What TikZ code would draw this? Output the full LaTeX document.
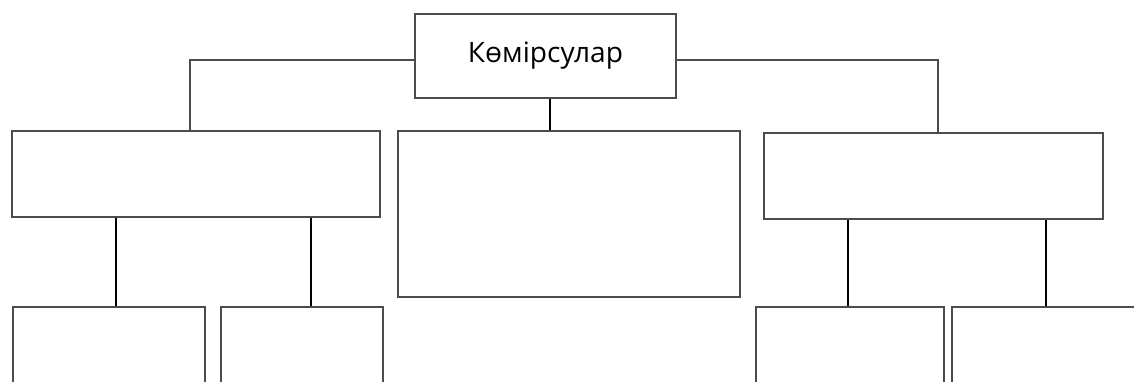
\documentclass[tikz,border=0pt]{standalone}
\usepackage{fontspec}
\setmainfont{Open Sans}

\begin{document}
\begin{tikzpicture}[x=0.02cm,y=-0.02cm,
    box/.style={draw=black!70, line width=0.8pt, rectangle, inner sep=0pt},
    thin/.style={draw=black!70, line width=0.7pt},
    stem/.style={draw=black, line width=1.7pt}]
    \useasboundingbox (0,0) rectangle (1134,382);
    \clip (0,0) rectangle (1134,382);
    \node[box, minimum width=5.22cm, minimum height=1.68cm, font=\fontsize{16}{19}\selectfont] (top) at (545.5,56) {Көмірсулар};
    \node[box, minimum width=7.36cm, minimum height=1.72cm] (L) at (196,174) {};
    \node[box, minimum width=6.84cm, minimum height=3.32cm] (C) at (569,214) {};
    \node[box, minimum width=6.78cm, minimum height=1.72cm] (R) at (933.5,176) {};
    % bottom row
    \node[box, minimum width=3.84cm, minimum height=1.86cm] (LL) at (109,353.5) {};
    \node[box, minimum width=3.24cm, minimum height=1.86cm] (LR) at (302,353.5) {};
    \node[box, minimum width=3.76cm, minimum height=1.86cm] (RL) at (850,353.5) {};
    \node[box, minimum width=3.96cm, minimum height=1.86cm] (RR) at (1051,353.5) {};
    % links
    \draw[thin] ([yshift=-0.08cm]top.west) -| ([xshift=-0.12cm]L.north);
    \draw[thin] ([yshift=-0.08cm]top.east) -| ([xshift=0.09cm]R.north);
    \draw[stem] ([xshift=0.09cm]top.south) -- ([xshift=0.09cm]top.south |- C.north);
    \draw[stem] ([xshift=0.14cm]LL.north) -- ([xshift=0.14cm]LL.north |- L.south);
    \draw[stem] ([xshift=0.18cm]LR.north) -- ([xshift=0.18cm]LR.north |- L.south);
    \draw[stem] ([xshift=-0.04cm]RL.north) -- ([xshift=-0.04cm]RL.north |- R.south);
    \draw[stem] ([xshift=-0.1cm]RR.north) -- ([xshift=-0.1cm]RR.north |- R.south);
\end{tikzpicture}
\end{document}
